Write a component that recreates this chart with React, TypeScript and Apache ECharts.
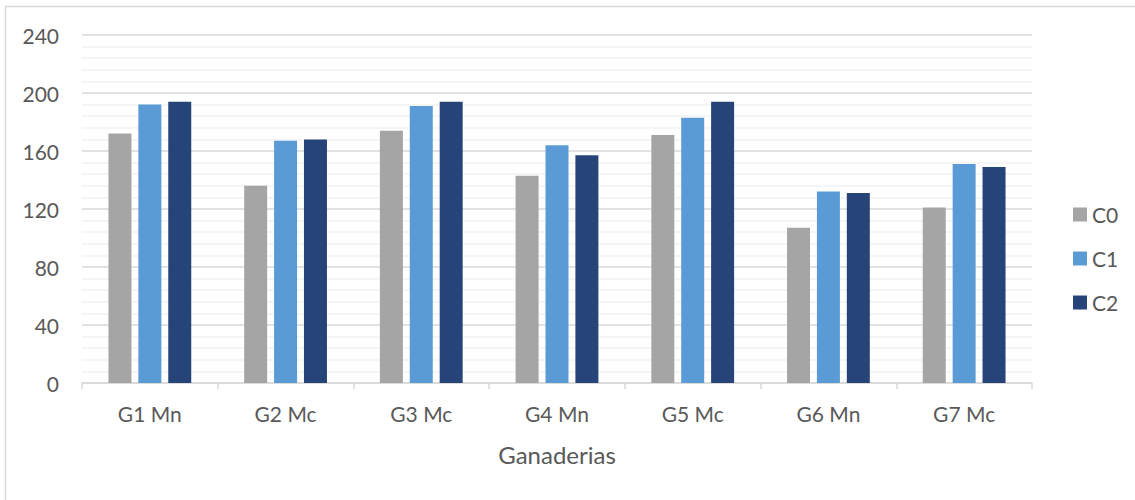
import React, { useEffect, useRef } from "react";
import * as echarts from "echarts";

const categories = ["G1 Mn", "G2 Mc", "G3 Mc", "G4 Mn", "G5 Mc", "G6 Mn", "G7 Mc"];
const seriesNames = ["C0", "C1", "C2"];
const c0Values = [172, 136, 174, 143, 171, 107, 121];
const c1Values = [192, 167, 191, 164, 183, 132, 151];
const c2Values = [194, 168, 194, 157, 194, 131, 149];
const seriesColors = ["#A5A5A5", "#5B9BD5", "#264478"];
const axisName = "Ganaderias";

const FONT = "Lato, 'Open Sans', sans-serif";

export default function App() {
  const ref = useRef<HTMLDivElement>(null);

  useEffect(() => {
    document.body.style.margin = "0";
    const chart = echarts.init(ref.current!, null, { renderer: "svg" });
    const values = [c0Values, c1Values, c2Values];
    chart.setOption({
      animation: false,
      backgroundColor: "#ffffff",
      textStyle: { fontFamily: FONT },
      graphic: [
        {
          type: "rect",
          z: -10,
          shape: { x: 5.5, y: 6.5, width: 1300, height: 700 },
          style: { fill: "none", stroke: "#D9D9D9", lineWidth: 1.5 },
          silent: true,
        },
      ],
      grid: { left: 82, right: 103, top: 35, bottom: 117 },
      legend: {
        orient: "vertical",
        left: 1068,
        top: 199,
        itemWidth: 14,
        itemHeight: 14,
        itemGap: 23,
        icon: "rect",
        textStyle: { fontSize: 21, color: "#595959", fontFamily: FONT },
        data: seriesNames,
      },
      xAxis: {
        type: "category",
        data: categories,
        name: axisName,
        nameLocation: "middle",
        nameGap: 59,
        nameTextStyle: { fontSize: 24, color: "#595959", fontFamily: FONT },
        axisLine: { lineStyle: { color: "#D9D9D9", width: 1.5 } },
        axisTick: { show: true, length: 6, lineStyle: { color: "#D9D9D9", width: 1.5 } },
        axisLabel: { fontSize: 21, color: "#595959", margin: 20, fontFamily: FONT },
      },
      yAxis: {
        type: "value",
        min: 0,
        max: 240,
        interval: 40,
        axisLine: { show: false },
        axisTick: { show: false },
        axisLabel: { fontSize: 21, color: "#595959", margin: 23, fontFamily: FONT },
        splitLine: { lineStyle: { color: "#D9D9D9", width: 1.5 } },
        minorTick: { show: false, splitNumber: 5 },
        minorSplitLine: { show: true, lineStyle: { color: "#F2F2F2", width: 1.5 } },
      },
      series: seriesNames.map((name, i) => ({
        name,
        type: "bar",
        data: values[i],
        itemStyle: { color: seriesColors[i] },
        barGap: "30%",
        barCategoryGap: "39%",
      })),
    });
    return () => chart.dispose();
  }, []);

  return <div ref={ref} style={{ width: 1135, height: 500 }} />;
}
